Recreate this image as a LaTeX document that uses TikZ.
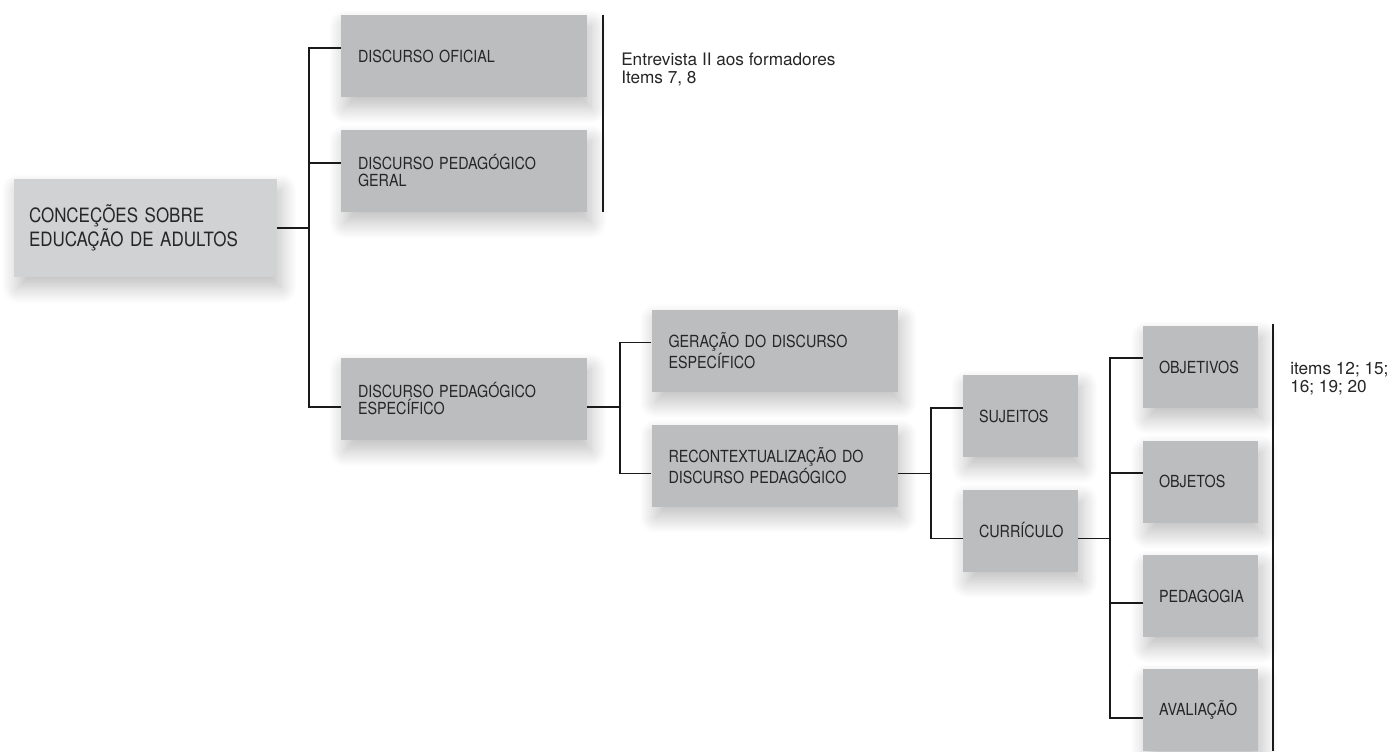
\documentclass[tikz,border=0pt]{standalone}
\usepackage{fontspec}
\setmainfont{TeX Gyre Heros}[FakeStretch=0.86]
\newfontfamily\notefont{TeX Gyre Heros}
\usetikzlibrary{shadows.blur}
\definecolor{boxgray}{HTML}{BCBDBF}
\definecolor{rootgray}{HTML}{D1D2D4}
\definecolor{txtgray}{HTML}{262626}
\begin{document}
\begin{tikzpicture}[x=0.75pt,y=-0.75pt,
  shade/.style={blur shadow={shadow xshift=3pt,shadow yshift=-8pt,shadow blur radius=12pt,shadow blur steps=16,shadow opacity=26}},
  bigbox/.style={shade,fill=boxgray,draw=none,align=left,text=txtgray,
    inner xsep=12.75pt,inner ysep=0pt,text width=159pt,minimum height=61.5pt,
    font=\fontsize{12.5pt}{12.75pt}\selectfont},
  smallbox/.style={bigbox,inner xsep=12pt,text width=62.25pt},
  rootbox/.style={shade,fill=rootgray,draw=none,align=left,text=txtgray,
    inner xsep=11.25pt,inner ysep=0pt,text width=174.75pt,minimum height=73.5pt,
    font=\fontsize{14.8pt}{13.9pt}\selectfont},
  conn/.style={draw=black!90,line width=1.35pt},
  bracket/.style={draw=black!90,line width=1.6pt},
  note/.style={anchor=west,align=left,text=txtgray,inner sep=0pt,
    font=\notefont\fontsize{12.9pt}{13.5pt}\selectfont}]
\useasboundingbox (0,0) rectangle (1397,751);
% boxes
\node[rootbox] (root) at (145.5,228) {CONCEÇÕES SOBRE\\EDUCAÇÃO DE ADULTOS};
\node[bigbox] (ofi) at (464,56) {DISCURSO OFICIAL};
\node[bigbox] (ger) at (464,171) {DISCURSO PEDAGÓGICO\\GERAL};
\node[bigbox] (esp) at (464,399) {DISCURSO PEDAGÓGICO\\ESPECÍFICO};
\node[bigbox] (gen) at (774.5,350.5) {GERAÇÃO DO DISCURSO\\ESPECÍFICO};
\node[bigbox] (rec) at (774.5,465.5) {RECONTEXTUALIZAÇÃO DO\\DISCURSO PEDAGÓGICO};
\node[smallbox] (suj) at (1020.5,416) {SUJEITOS};
\node[smallbox] (cur) at (1020.5,530.5) {CURRÍCULO};
\node[smallbox] (objv) at (1200.5,367) {OBJETIVOS};
\node[smallbox] (objt) at (1200.5,481.5) {OBJETOS};
\node[smallbox] (ped) at (1200.5,596) {PEDAGOGIA};
\node[smallbox] (ava) at (1200.5,710) {AVALIAÇÃO};
% line levels
\coordinate (ofiL) at ([yshift=6pt]ofi.west);
\coordinate (gerL) at ([yshift=6pt]ger.west);
\coordinate (espL) at ([yshift=-6pt]esp.west);
\coordinate (espR) at ([yshift=-6pt]esp.east);
\coordinate (genL) at ([yshift=6pt]gen.west);
\coordinate (recL) at ([yshift=-6pt]rec.west);
\coordinate (recR) at ([yshift=-6pt]rec.east);
\coordinate (sujL) at ([yshift=6pt]suj.west);
\coordinate (curL) at ([yshift=-6pt]cur.west);
\coordinate (curR) at ([yshift=-6pt]cur.east);
\coordinate (objvL) at ([yshift=6.5pt]objv.west);
\coordinate (objtL) at ([yshift=6.5pt]objt.west);
\coordinate (pedL) at ([yshift=-5.5pt]ped.west);
\coordinate (avaL) at ([yshift=-6pt]ava.west);
% junctions
\coordinate (j1) at ([xshift=24pt]root.east);
\coordinate (j2) at ([xshift=24.75pt]espR);
\coordinate (j3) at ([xshift=24.75pt]recR);
\coordinate (j4) at ([xshift=24pt]curR);
% connectors
\draw[conn] (root.east) -- (j1);
\draw[conn] (ofiL) -- (ofiL -| j1) -- (espL -| j1) -- (espL);
\draw[conn] (gerL -| j1) -- (gerL);
\draw[conn] (espR) -- (j2);
\draw[conn] (genL) -- (genL -| j2) -- (recL -| j2) -- (recL);
\draw[conn] (recR) -- (j3);
\draw[conn] (sujL) -- (sujL -| j3) -- (curL -| j3) -- (curL);
\draw[conn] (curR) -- (j4);
\draw[conn] (objvL) -- (objvL -| j4) -- (avaL -| j4) -- (avaL);
\draw[conn] (objtL -| j4) -- (objtL);
\draw[conn] (pedL -| j4) -- (pedL);
% brackets
\coordinate (b1t) at ([xshift=12pt]ofi.north east);
\coordinate (b1b) at ([xshift=12pt]ger.south east);
\draw[bracket] (b1t) -- (b1b);
\coordinate (b2t) at ([xshift=11.25pt,yshift=1.5pt]objv.north east);
\coordinate (b2b) at ([xshift=11.25pt]ava.south east);
\draw[bracket] (b2t) -- (b2b);
% notes
\node[note] (n1) at (621,69) {Entrevista II aos formadores\\Items 7, 8};
\node[note] (n2) at (1290,379) {items 12; 15;\\16; 19; 20};
\end{tikzpicture}
\end{document}
